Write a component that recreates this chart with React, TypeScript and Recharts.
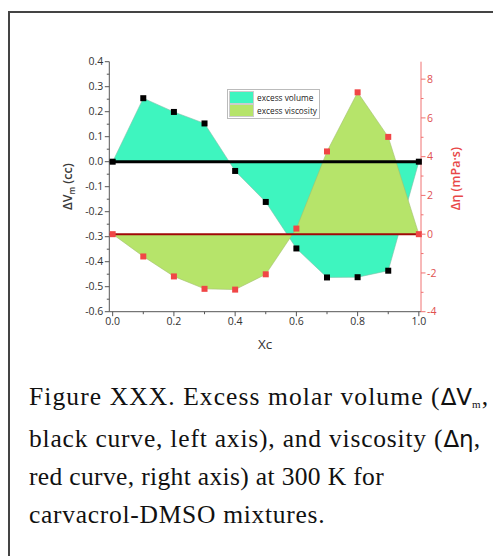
import React from 'react';
import { ComposedChart, Area, Line, XAxis, YAxis, ReferenceLine, Legend } from 'recharts';

// ---- data ----
const XC = [0, 0.1, 0.2, 0.3, 0.4, 0.5, 0.6, 0.7, 0.8, 0.9, 1.0];
const DELTA_VM = [0.0, 0.254, 0.199, 0.153, -0.037, -0.161, -0.347, -0.463, -0.462, -0.436, 0.0];
const DELTA_ETA = [0.0, -1.15, -2.18, -2.82, -2.86, -2.07, 0.29, 4.27, 7.32, 5.02, 0.0];
const SERIES_NAMES = ['excess volume', 'excess viscosity'];

// ---- ticks ----
const X_MAJOR = [0, 0.2, 0.4, 0.6, 0.8, 1.0];
const X_MINOR = [0.1, 0.3, 0.5, 0.7, 0.9];
const VM_MAJOR = [-0.6, -0.5, -0.4, -0.3, -0.2, -0.1, 0, 0.1, 0.2, 0.3, 0.4];
const VM_MINOR = [-0.55, -0.45, -0.35, -0.25, -0.15, -0.05, 0.05, 0.15, 0.25, 0.35];
const ETA_MAJOR = [-4, -2, 0, 2, 4, 6, 8];
const ETA_MINOR = [-3, -1, 1, 3, 5, 7];

const CAPTION_LINES = [
  ['Figure XXX. Excess molar volume (', 'ΔV', 'm', ','],
  ['black curve, left axis), and viscosity (', 'Δη', '', ','],
  ['red curve, right axis) at 300 K for', '', '', ''],
  ['carvacrol-DMSO mixtures.', '', '', ''],
];
const CAPTION_SPACING = [1.1, 0.8, 0.35, 0.72];

const rows = XC.map((x, i) => ({ x, dv: DELTA_VM[i], de: DELTA_ETA[i] }));

const TEAL = '#3ef5bf';
const GREEN = '#b6e46a';
const AXIS = '#555';
const RED_AXIS = '#f07272';
const TICK_FONT = "'Open Sans', 'DejaVu Sans', sans-serif";
const TICK_SIZE = 10.5;

const isIn = (arr: number[], v: number) => arr.some((m) => Math.abs(m - v) < 1e-9);

function makeTick(side: string, majors: number[], fmt: (v: number) => string, lineColor: string, textColor: string) {
  return (props: any) => {
    const { x, y, payload } = props;
    const v = payload.value;
    const major = isIn(majors, v);
    const len = major ? 4.5 : 2.5;
    let line = null;
    let label = null;
    if (side === 'left') {
      line = <line x1={x} y1={y} x2={x - len} y2={y} stroke={lineColor} strokeWidth={1} />;
      if (major) label = <text x={x - 6} y={y} dy="0.35em" textAnchor="end" fontSize={TICK_SIZE} fontFamily={TICK_FONT} fill={textColor}>{fmt(v)}</text>;
    } else if (side === 'right') {
      line = <line x1={x} y1={y} x2={x + len} y2={y} stroke={lineColor} strokeWidth={1} />;
      if (major) label = <text x={x + 6} y={y} dy="0.35em" textAnchor="start" fontSize={TICK_SIZE} fontFamily={TICK_FONT} fill={textColor}>{fmt(v)}</text>;
    } else if (side === 'bottom') {
      line = <line x1={x} y1={y} x2={x} y2={y + len} stroke={lineColor} strokeWidth={1} />;
      if (major) label = <text x={x} y={y + 6} dy="0.71em" textAnchor="middle" fontSize={TICK_SIZE} fontFamily={TICK_FONT} fill={textColor}>{fmt(v)}</text>;
    } else {
      line = <line x1={x} y1={y} x2={x} y2={y + len} stroke={lineColor} strokeWidth={1} />;
    }
    return (
      <g>
        {line}
        {label}
      </g>
    );
  };
}

const fmt1 = (v: number) => (Math.abs(v) < 1e-9 ? '0.0' : v.toFixed(1));
const fmt0 = (v: number) => String(Math.round(v));

const Square = (color: string) => (props: any) => {
  const { cx, cy, index } = props;
  if (cx == null || cy == null) return <g key={index} />;
  return <rect key={index} x={cx - 3} y={cy - 3} width={6} height={6} fill={color} />;
};

const LegendBox = () => (
  <div
    style={{
      border: '1px solid #bbb',
      background: '#fff',
      padding: '1px 2px 1px 1px',
      fontFamily: TICK_FONT,
      fontSize: 8.3,
      color: '#222',
      lineHeight: '12px',
    }}
  >
    {SERIES_NAMES.map((n, i) => (
      <div key={n} style={{ display: 'flex', alignItems: 'center', height: 13 }}>
        <span style={{ display: 'inline-block', width: 23, height: 11, background: i === 0 ? TEAL : GREEN, border: '1px solid #ccc', marginRight: 3 }} />
        <span style={{ whiteSpace: 'nowrap' }}>{n}</span>
      </div>
    ))}
  </div>
);

const VmLabel = (props: any) => {
  const vb = props.viewBox;
  const cx = vb.x + 18;
  const cy = vb.y + vb.height / 2;
  return (
    <text transform={`translate(${cx},${cy}) rotate(-90)`} textAnchor="middle" dy="0.35em" fontSize={12.5} fontFamily={TICK_FONT} fontWeight={600} fill="#3a3a3a">
      ΔV<tspan fontSize={8} dy="3">m</tspan>
      <tspan dy="-3"> (cc)</tspan>
    </text>
  );
};

const EtaLabel = (props: any) => {
  const vb = props.viewBox;
  const cx = vb.x + 35;
  const cy = vb.y + vb.height / 2 - 8;
  return (
    <text transform={`translate(${cx},${cy}) rotate(-90)`} textAnchor="middle" dy="0.35em" fontSize={12.5} fontFamily={TICK_FONT} fontWeight={600} fill="#e84848">
      Δη (mPa·s)
    </text>
  );
};

const XcLabel = (props: any) => {
  const vb = props.viewBox;
  return (
    <text x={vb.x + vb.width / 2} y={vb.y + 33} dy="0.35em" textAnchor="middle" fontSize={13.5} fontFamily={TICK_FONT} fill="#333">
      Xc
    </text>
  );
};

export default function App() {
  return (
    <div style={{ position: 'relative', width: 493, height: 548, overflow: 'hidden', background: '#fff' }}>
      {/* clipped text from the page above */}
      <svg style={{ position: 'absolute', left: -8, top: -8 }} width={501} height={10}>
        <text x={205} y={1} fontSize={26} fontFamily="'Liberation Serif', serif" fill="#111">typically</text>
        <text x={328} y={1} fontSize={26} fontFamily="'Liberation Serif', serif" fill="#111">g</text>
      </svg>
      {/* figure box */}
      <div style={{ position: 'absolute', left: 0, top: 3, width: 600, height: 600, borderTop: '2px solid #444', borderLeft: '2px solid #444' }} />
      <div style={{ position: 'absolute', left: 0, top: 0 }}>
        <ComposedChart width={480} height={350} data={rows} margin={{ top: 53.7, right: 22, bottom: 6.3, left: 41.3 }}>
          <XAxis
            xAxisId="b"
            dataKey="x"
            type="number"
            domain={[-0.011, 1.007]}
            ticks={[...X_MAJOR, ...X_MINOR].sort((a, b) => a - b)}
            interval={0}
            tickSize={0}
            tickMargin={0}
            tickLine={false}
            height={40}
            stroke={AXIS}
            tick={makeTick('bottom', X_MAJOR, fmt1, AXIS, '#333')}
            label={XcLabel}
          />
          <XAxis
            xAxisId="t"
            orientation="top"
            dataKey="x"
            type="number"
            domain={[-0.011, 1.007]}
            ticks={[...X_MAJOR, ...X_MINOR].sort((a, b) => a - b)}
            interval={0}
            tickSize={0}
            tickMargin={0}
            tickLine={false}
            height={0}
            stroke={AXIS}
            tick={makeTick('top', X_MAJOR, fmt1, AXIS, '#333')}
          />
          <YAxis
            yAxisId="vm"
            orientation="left"
            type="number"
            domain={[-0.6, 0.4]}
            ticks={[...VM_MAJOR, ...VM_MINOR].sort((a, b) => a - b)}
            interval={0}
            tickSize={0}
            tickMargin={0}
            tickLine={false}
            width={60}
            stroke={AXIS}
            tick={makeTick('left', VM_MAJOR, fmt1, AXIS, '#333')}
            label={VmLabel}
          />
          <YAxis
            yAxisId="eta"
            orientation="right"
            type="number"
            domain={[-4, 8.9]}
            ticks={[...ETA_MAJOR, ...ETA_MINOR].sort((a, b) => a - b)}
            interval={0}
            tickSize={0}
            tickMargin={0}
            tickLine={false}
            width={45}
            stroke={RED_AXIS}
            tick={makeTick('right', ETA_MAJOR, fmt0, RED_AXIS, '#e05050')}
            label={EtaLabel}
          />
          <Area
            xAxisId="b"
            yAxisId="vm"
            type="linear"
            dataKey="dv"
            name={SERIES_NAMES[0]}
            baseValue={0}
            fill={TEAL}
            fillOpacity={1}
            stroke="#7fbfa8"
            strokeWidth={0.6}
            dot={false}
            activeDot={false}
            isAnimationActive={false}
          />
          <Area
            xAxisId="b"
            yAxisId="eta"
            type="linear"
            dataKey="de"
            name={SERIES_NAMES[1]}
            baseValue={0}
            fill={GREEN}
            fillOpacity={1}
            stroke="#a3c070"
            strokeWidth={0.6}
            dot={false}
            activeDot={false}
            isAnimationActive={false}
          />
          <ReferenceLine xAxisId="b" yAxisId="vm" y={0} stroke="#000" strokeWidth={3} />
          <ReferenceLine xAxisId="b" yAxisId="eta" y={0} stroke="#a00808" strokeWidth={2} />
          <Line
            xAxisId="b"
            yAxisId="vm"
            type="linear"
            dataKey="dv"
            stroke="none"
            legendType="none"
            dot={Square('#000')}
            activeDot={false}
            isAnimationActive={false}
          />
          <Line
            xAxisId="b"
            yAxisId="eta"
            type="linear"
            dataKey="de"
            stroke="none"
            legendType="none"
            dot={Square('#f04646')}
            activeDot={false}
            isAnimationActive={false}
          />
          <Legend
            layout="vertical"
            align="center"
            verticalAlign="middle"
            content={LegendBox}
            wrapperStyle={{ left: 219, top: 81, width: 'auto' }}
          />
        </ComposedChart>
      </div>
      {/* caption */}
      <div
        style={{
          position: 'absolute',
          left: 21,
          top: 370,
          fontFamily: "'Liberation Serif', serif",
          fontSize: 25.5,
          lineHeight: '38px',
          color: '#111',
          whiteSpace: 'nowrap',
        }}
      >
        {CAPTION_LINES.map((l, i) => (
          <div key={i} style={{ letterSpacing: `${CAPTION_SPACING[i]}px` }}>
            {l[0]}
            {l[1] && <span style={{ fontFamily: "'DejaVu Sans', sans-serif", fontSize: 23, letterSpacing: 0 }}>{l[1]}</span>}
            {l[2] && <sub style={{ fontSize: 11, verticalAlign: 'baseline', position: 'relative', top: 3 }}>{l[2]}</sub>}
            {l[3]}
          </div>
        ))}
      </div>
    </div>
  );
}
